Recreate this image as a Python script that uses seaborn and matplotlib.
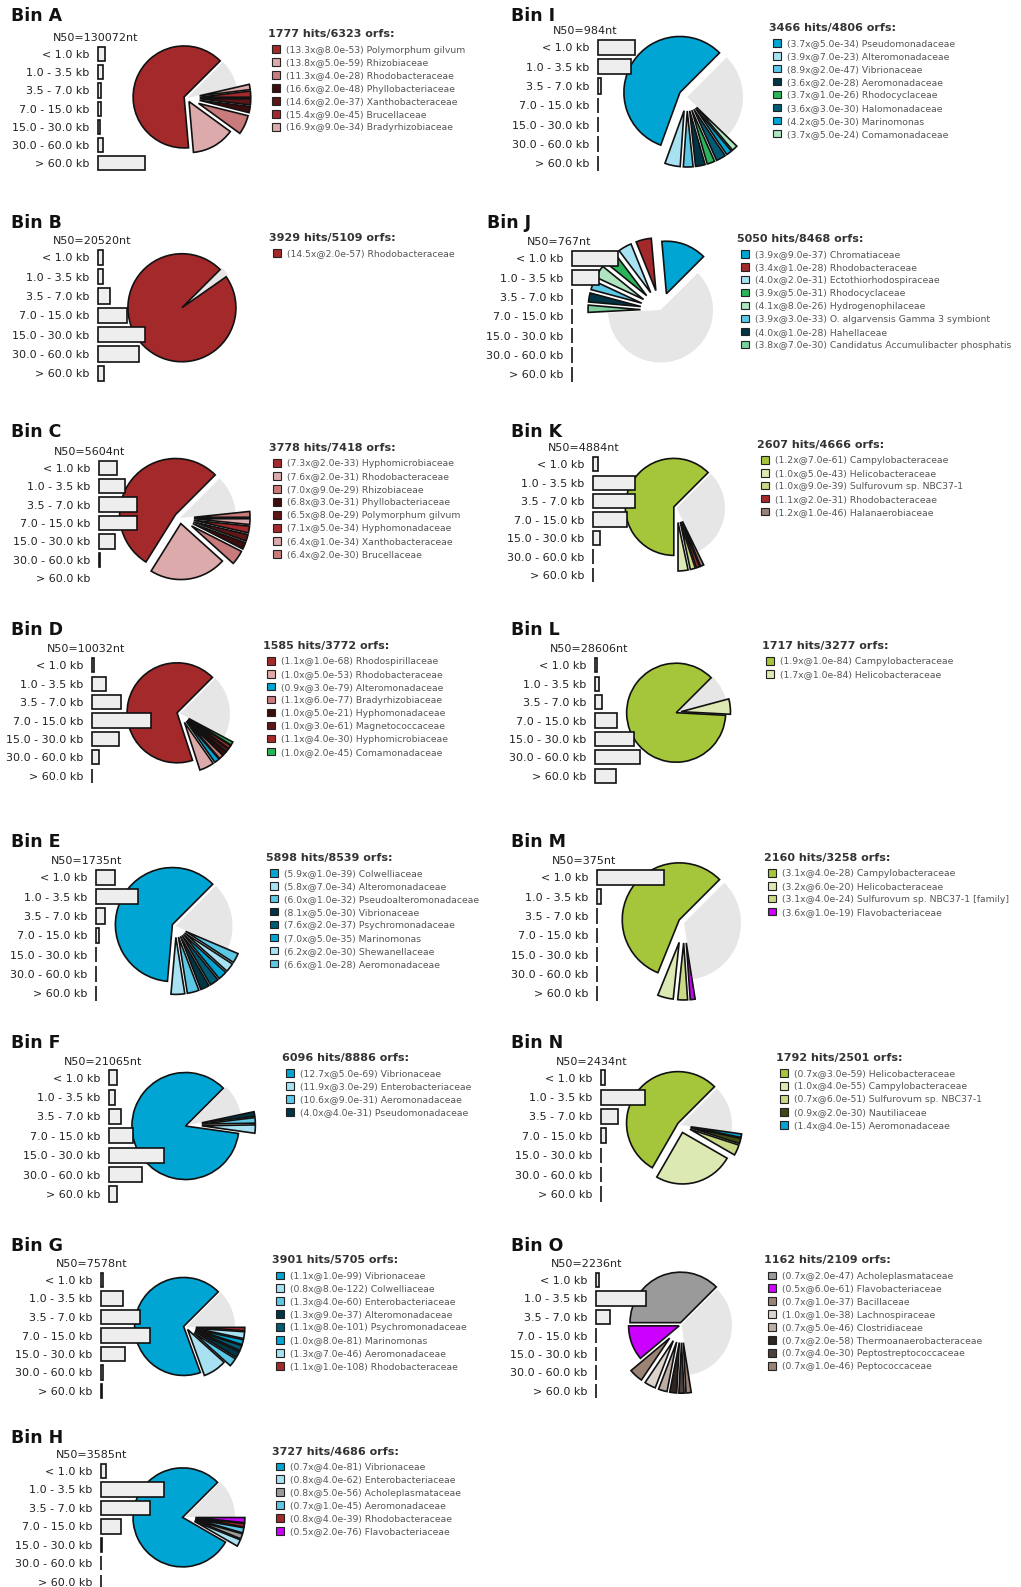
import numpy as np
import pandas as pd
import matplotlib
matplotlib.use("Agg")
import matplotlib.pyplot as plt
from matplotlib.patches import Patch
import seaborn as sns

sns.set_style("white")
plt.rcParams["font.family"] = ["DejaVu Sans"]

# ---------------- data ----------------
BINS = list("ABCDEFGHIJKLMNO")
N50_NT = [130072, 20520, 5604, 10032, 1735, 21065, 7578, 3585,
          984, 767, 4884, 28606, 375, 2434, 2236]
HITS = [1777, 3929, 3778, 1585, 5898, 6096, 3901, 3727,
        3466, 5050, 2607, 1717, 2160, 1792, 1162]
ORFS = [6323, 5109, 7418, 3772, 8539, 8886, 5705, 4686,
        4806, 8468, 4666, 3277, 3258, 2501, 2109]

LENGTH_CLASSES = ["< 1.0 kb", "1.0 - 3.5 kb", "3.5 - 7.0 kb", "7.0 - 15.0 kb",
                  "15.0 - 30.0 kb", "30.0 - 60.0 kb", "> 60.0 kb"]
NA = np.nan
LENGTH_SHARE = {
    "A": [7, 5, 2.5, 2.5, 2, 5, 47],
    "B": [5, 5, 12, 29, 47, 41, 6],
    "C": [18, 26, 38, 38, 16, 1, NA],
    "D": [1.5, 14, 29, 59, 27, 7, 0],
    "E": [19, 42, 9, 2.5, 0, 0, 0],
    "F": [8, 6, 12, 24, 55, 33, 8],
    "G": [2, 22, 39, 49, 24, 1.5, 0.5],
    "H": [5, 63, 49, 20, 1, 0, 0],
    "I": [37, 33, 3, 0, 0, 0, 0],
    "J": [46, 27, 0, 0, 0, 0, 0],
    "K": [5, 42, 42, 34, 7, 0, 0],
    "L": [1.5, 4, 7, 22, 39, 45, 21],
    "M": [67, 4, 0, 0, 0, 0, 0],
    "N": [4, 44, 17, 5, 0, 0, 0],
    "O": [3, 50, 14, 0, 0, 0, 0],
}

TAXA = {
    "A": ["Polymorphum gilvum", "Rhizobiaceae", "Rhodobacteraceae", "Phyllobacteriaceae",
          "Xanthobacteraceae", "Brucellaceae", "Bradyrhizobiaceae"],
    "B": ["Rhodobacteraceae"],
    "C": ["Hyphomicrobiaceae", "Rhodobacteraceae", "Rhizobiaceae", "Phyllobacteriaceae",
          "Polymorphum gilvum", "Hyphomonadaceae", "Xanthobacteraceae", "Brucellaceae"],
    "D": ["Rhodospirillaceae", "Rhodobacteraceae", "Alteromonadaceae", "Bradyrhizobiaceae",
          "Hyphomonadaceae", "Magnetococcaceae", "Hyphomicrobiaceae", "Comamonadaceae"],
    "E": ["Colwelliaceae", "Alteromonadaceae", "Pseudoalteromonadaceae", "Vibrionaceae",
          "Psychromonadaceae", "Marinomonas", "Shewanellaceae", "Aeromonadaceae"],
    "F": ["Vibrionaceae", "Enterobacteriaceae", "Aeromonadaceae", "Pseudomonadaceae"],
    "G": ["Vibrionaceae", "Colwelliaceae", "Enterobacteriaceae", "Alteromonadaceae",
          "Psychromonadaceae", "Marinomonas", "Aeromonadaceae", "Rhodobacteraceae"],
    "H": ["Vibrionaceae", "Enterobacteriaceae", "Acholeplasmataceae", "Aeromonadaceae",
          "Rhodobacteraceae", "Flavobacteriaceae"],
    "I": ["Pseudomonadaceae", "Alteromonadaceae", "Vibrionaceae", "Aeromonadaceae",
          "Rhodocyclaceae", "Halomonadaceae", "Marinomonas", "Comamonadaceae"],
    "J": ["Chromatiaceae", "Rhodobacteraceae", "Ectothiorhodospiraceae", "Rhodocyclaceae",
          "Hydrogenophilaceae", "O. algarvensis Gamma 3 symbiont", "Hahellaceae",
          "Candidatus Accumulibacter phosphatis"],
    "K": ["Campylobacteraceae", "Helicobacteraceae", "Sulfurovum sp. NBC37-1",
          "Rhodobacteraceae", "Halanaerobiaceae"],
    "L": ["Campylobacteraceae", "Helicobacteraceae"],
    "M": ["Campylobacteraceae", "Helicobacteraceae", "Sulfurovum sp. NBC37-1 [family]",
          "Flavobacteriaceae"],
    "N": ["Helicobacteraceae", "Campylobacteraceae", "Sulfurovum sp. NBC37-1",
          "Nautiliaceae", "Aeromonadaceae"],
    "O": ["Acholeplasmataceae", "Flavobacteriaceae", "Bacillaceae", "Lachnospiraceae",
          "Clostridiaceae", "Thermoanaerobacteraceae", "Peptostreptococcaceae",
          "Peptococcaceae"],
}

COVERAGE = {
    "A": [13.3, 13.8, 11.3, 16.6, 14.6, 15.4, 16.9],
    "B": [14.5],
    "C": [7.3, 7.6, 7.0, 6.8, 6.5, 7.1, 6.4, 6.4],
    "D": [1.1, 1.0, 0.9, 1.1, 1.0, 1.0, 1.1, 1.0],
    "E": [5.9, 5.8, 6.0, 8.1, 7.6, 7.0, 6.2, 6.6],
    "F": [12.7, 11.9, 10.6, 4.0],
    "G": [1.1, 0.8, 1.3, 1.3, 1.1, 1.0, 1.3, 1.1],
    "H": [0.7, 0.8, 0.8, 0.7, 0.8, 0.5],
    "I": [3.7, 3.9, 8.9, 3.6, 3.7, 3.6, 4.2, 3.7],
    "J": [3.9, 3.4, 4.0, 3.9, 4.1, 3.9, 4.0, 3.8],
    "K": [1.2, 1.0, 1.0, 1.1, 1.2],
    "L": [1.9, 1.7],
    "M": [3.1, 3.2, 3.1, 3.6],
    "N": [0.7, 1.0, 0.7, 0.9, 1.4],
    "O": [0.7, 0.5, 0.7, 1.0, 0.7, 0.7, 0.7, 0.7],
}

EVALUE = {
    "A": [8.0e-53, 5.0e-59, 4.0e-28, 2.0e-48, 2.0e-37, 9.0e-45, 9.0e-34],
    "B": [2.0e-57],
    "C": [2.0e-33, 2.0e-31, 9.0e-29, 3.0e-31, 8.0e-29, 5.0e-34, 1.0e-34, 2.0e-30],
    "D": [1.0e-68, 5.0e-53, 3.0e-79, 6.0e-77, 5.0e-21, 3.0e-61, 4.0e-30, 2.0e-45],
    "E": [1.0e-39, 7.0e-34, 1.0e-32, 5.0e-30, 2.0e-37, 5.0e-35, 2.0e-30, 1.0e-28],
    "F": [5.0e-69, 3.0e-29, 9.0e-31, 4.0e-31],
    "G": [1.0e-99, 8.0e-122, 4.0e-60, 9.0e-37, 8.0e-101, 8.0e-81, 7.0e-46, 1.0e-108],
    "H": [4.0e-81, 4.0e-62, 5.0e-56, 1.0e-45, 4.0e-39, 2.0e-76],
    "I": [5.0e-34, 7.0e-23, 2.0e-47, 2.0e-28, 1.0e-26, 3.0e-30, 5.0e-30, 5.0e-24],
    "J": [9.0e-37, 1.0e-28, 2.0e-31, 5.0e-31, 8.0e-26, 3.0e-33, 1.0e-28, 7.0e-30],
    "K": [7.0e-61, 5.0e-43, 9.0e-39, 2.0e-31, 1.0e-46],
    "L": [1.0e-84, 1.0e-84],
    "M": [4.0e-28, 6.0e-20, 4.0e-24, 1.0e-19],
    "N": [3.0e-59, 4.0e-55, 6.0e-51, 2.0e-30, 4.0e-15],
    "O": [2.0e-47, 6.0e-61, 1.0e-37, 1.0e-38, 5.0e-46, 2.0e-58, 4.0e-30, 1.0e-46],
}

# taxonomic group code of every legend entry (colour key)
GROUP = {
    "A": ["a1", "a2", "a3", "a4", "a5", "a1", "a2"],
    "B": ["a1"],
    "C": ["a1", "a2", "a3", "a4", "a5", "a1", "a2", "a3"],
    "D": ["a1", "a2", "g1", "a3", "a4", "a5", "a1", "b1"],
    "E": ["g1", "g2", "g3", "g4", "g5", "g1", "g2", "g3"],
    "F": ["g1", "g2", "g3", "g4"],
    "G": ["g1", "g2", "g3", "g4", "g5", "g1", "g2", "a1"],
    "H": ["g1", "g2", "t1", "g3", "a1", "f1"],
    "I": ["g1", "g2", "g3", "g4", "b1", "g5", "g1", "b2"],
    "J": ["g1", "a1", "g2", "b1", "b2", "g3", "g4", "b3"],
    "K": ["e1", "e2", "e3", "a1", "c1"],
    "L": ["e1", "e2"],
    "M": ["e1", "e2", "e3", "f1"],
    "N": ["e1", "e2", "e3", "e4", "g1"],
    "O": ["t1", "f1", "c1", "c2", "c3", "c4", "c5", "c1"],
}

# pie slices (degrees): assigned taxa in legend order, then unassigned
SLICE_SHARE = {
    "A": [230, 49, 22, 7, 7, 7, 6, 32],
    "B": [350, 10],
    "C": [193, 80, 15, 7, 7, 7, 6, 6, 39],
    "D": [243, 17, 6, 5, 4, 4, 4, 4, 73],
    "E": [220, 14, 12, 9, 9, 9, 9, 10, 68],
    "F": [307, 9, 6, 5, 33],
    "G": [245, 28, 10, 8, 6, 6, 8, 4, 45],
    "H": [285, 8, 6, 6, 4, 6, 45],
    "I": [205, 16, 10, 10, 8, 10, 6, 6, 89],
    "J": [50, 17, 15, 14, 14, 10, 10, 8, 222],
    "K": [225, 12, 6, 4, 4, 109],
    "L": [312, 18, 30],
    "M": [203, 16, 10, 5, 126],
    "N": [195, 90, 12, 6, 4, 53],
    "O": [135, 40, 16, 13, 10, 8, 6, 6, 126],
}

# ---------------- styles / layout ----------------
PALETTE = {
    "a1": "#a3292b", "a2": "#dcaaaa", "a3": "#c97b7b", "a4": "#3d0c0c", "a5": "#5e1616",
    "g1": "#00a5d3", "g2": "#a8e2f2", "g3": "#5cc8e6", "g4": "#003545", "g5": "#005b75",
    "b1": "#2ab45a", "b2": "#aee5c0", "b3": "#7ccf9c",
    "e1": "#a5c63a", "e2": "#dde9b2", "e3": "#c8da86", "e4": "#3f4a12",
    "c1": "#9a8275", "c2": "#dcd3cc", "c3": "#bcaea5", "c4": "#2e2420", "c5": "#4d403a",
    "t1": "#9a9a9a", "f1": "#cc00ff",
}
UNASSIGNED = "#e6e6e6"
BAR_FILL = "#eeeeee"
EDGE = "#111111"

# pixel layout: title (x, y), bars left, first/last bar row y,
# pie centre (x, y), pie radius, legend x
LAYOUT = {
    "A": dict(tx=11, ty=16, bl=98, r0=54.0, r6=163.3, cx=187, cy=98, rad=51, lx=268),
    "B": dict(tx=11, ty=223, bl=98, r0=257.3, r6=373.3, cx=184, cy=306, rad=54, lx=269),
    "C": dict(tx=11, ty=432, bl=99, r0=467.7, r6=578.3, cx=180, cy=518, rad=56, lx=269),
    "D": dict(tx=11, ty=630, bl=92, r0=665.3, r6=775.7, cx=180, cy=713.5, rad=50, lx=263),
    "E": dict(tx=11, ty=842, bl=96, r0=877.3, r6=993.3, cx=175.5, cy=926, rad=57, lx=266),
    "F": dict(tx=11, ty=1043, bl=109, r0=1077.7, r6=1194, cx=188.5, cy=1125, rad=53.5, lx=282),
    "G": dict(tx=11, ty=1246, bl=101, r0=1280, r6=1391, cx=186, cy=1327, rad=49, lx=272),
    "H": dict(tx=11, ty=1438, bl=101, r0=1471, r6=1581.7, cx=185.5, cy=1517, rad=49.5, lx=272),
    "I": dict(tx=511, ty=16, bl=598, r0=47.3, r6=163.3, cx=687, cy=97, rad=56, lx=769),
    "J": dict(tx=487, ty=223, bl=572, r0=258.3, r6=374.3, cx=660.5, cy=310, rad=52.5, lx=737),
    "K": dict(tx=511, ty=432, bl=593, r0=464.3, r6=575, cx=676.5, cy=508, rad=48.5, lx=757),
    "L": dict(tx=511, ty=630, bl=595, r0=665.3, r6=775.7, cx=678, cy=712, rad=49.5, lx=762),
    "M": dict(tx=511, ty=842, bl=597, r0=877.3, r6=993.3, cx=684, cy=923, rad=57, lx=764),
    "N": dict(tx=511, ty=1043, bl=601, r0=1077.7, r6=1194, cx=680.5, cy=1125, rad=51.5, lx=776),
    "O": dict(tx=511, ty=1246, bl=596, r0=1280, r6=1391, cx=681.5, cy=1325, rad=50.5, lx=764),
}
# explode of (main slice, large secondary slices, small slices)
EXPLODE = {
    "A": (.06, .08, .25), "B": (.05, 0, 0), "C": (.10, .10, .25), "D": (.06, .10, .2),
    "E": (.06, .10, .2), "F": (.06, .10, .25), "G": (.05, .06, .2), "H": (.06, .10, .2),
    "I": (.15, .10, .25), "J": (.33, .38, .38), "K": (.06, .10, .3), "L": (.04, .06, .06),
    "M": (.10, .10, .35), "N": (.06, .15, .2), "O": (.05, .05, .35),
}

W, H = 1021, 1587
fig = plt.figure(figsize=(W / 100, H / 100), dpi=100)


def fx(px):
    return px / W


def fy(py):
    return 1 - py / H


PIE_BOX = 180
BAR_W = 100

for i, b in enumerate(BINS):
    L = LAYOUT[b]
    ty, bl, lx = L["ty"], L["bl"], L["lx"]
    step = (L["r6"] - L["r0"]) / 6

    # ---- pie ----
    shares = SLICE_SHARE[b]
    cols = [PALETTE[g] for g in GROUP[b]] + [UNASSIGNED]
    em, eb, es = EXPLODE[b]
    expl = []
    for k, s in enumerate(shares):
        if k == len(shares) - 1:
            expl.append(0.0)
        elif k == 0:
            expl.append(em)
        elif s >= 25:
            expl.append(eb)
        else:
            expl.append(es)
    lim = PIE_BOX / (2 * L["rad"])
    pax = fig.add_axes([fx(L["cx"] - PIE_BOX / 2), fy(L["cy"] + PIE_BOX / 2),
                        PIE_BOX / W, PIE_BOX / H])
    wedges, _ = pax.pie(shares, colors=cols, startangle=45, counterclock=True,
                        explode=expl,
                        wedgeprops=dict(edgecolor=EDGE, linewidth=1.2))
    wedges[-1].set_edgecolor(UNASSIGNED)
    wedges[-1].set_linewidth(0)
    wedges[-1].set_zorder(0.5)
    pax.set_xlim(-lim, lim)
    pax.set_ylim(-lim, lim)
    pax.set_aspect("equal")
    pax.axis("off")

    # ---- legend ----
    hy = L["r0"] - 19.5
    labels = [f"({c:.1f}x@{e:.1e}) {t}" for c, e, t in zip(COVERAGE[b], EVALUE[b], TAXA[b])]
    handles = [Patch(facecolor=PALETTE[g], edgecolor="#222222", linewidth=0.8)
               for g in GROUP[b]]
    fig.text(fx(lx), fy(hy), f"{HITS[i]} hits/{ORFS[i]} orfs:",
             fontsize=8, fontweight="bold", color="#333333", va="center", ha="left")
    pax.legend(handles, labels, loc="upper left",
               bbox_to_anchor=(fx(lx + 4), fy(hy + 11)), bbox_transform=fig.transFigure,
               frameon=False, fontsize=6.7, labelcolor="#555555",
               handlelength=0.9, handleheight=0.9, handletextpad=0.6,
               labelspacing=0.42, borderpad=0, borderaxespad=0)

    # ---- title and N50 ----
    fig.text(fx(L["tx"]), fy(ty), f"Bin {b}", fontsize=12.5, fontweight="bold",
             va="center", ha="left", color="#111111")
    fig.text(fx(bl - 45), fy(L["r0"] - 16), f"N50={N50_NT[i]}nt", fontsize=8,
             va="center", ha="left", color="#222222")

    # ---- length-class bars ----
    top = L["r0"] - step / 2
    hgt = step * 7
    bax = fig.add_axes([fx(bl), fy(top + hgt), BAR_W / W, hgt / H])
    df = pd.DataFrame({"cls": LENGTH_CLASSES, "share": LENGTH_SHARE[b]})
    sns.barplot(data=df, x="share", y="cls", order=LENGTH_CLASSES, orient="h",
                color=BAR_FILL, saturation=1, edgecolor=EDGE, linewidth=1.2,
                width=0.78, errorbar=None, ax=bax)
    for p in bax.patches:
        p.set_clip_on(False)
    bax.set_xlim(0, BAR_W)
    bax.set_ylim(6.5, -0.5)
    for sp in bax.spines.values():
        sp.set_visible(False)
    bax.patch.set_visible(False)
    bax.set_xlabel("")
    bax.set_ylabel("")
    bax.set_xticks([])
    bax.tick_params(axis="y", length=0, pad=6.5, labelsize=8, labelcolor="#222222")

fig.savefig("out.png", dpi=100, facecolor="white")
